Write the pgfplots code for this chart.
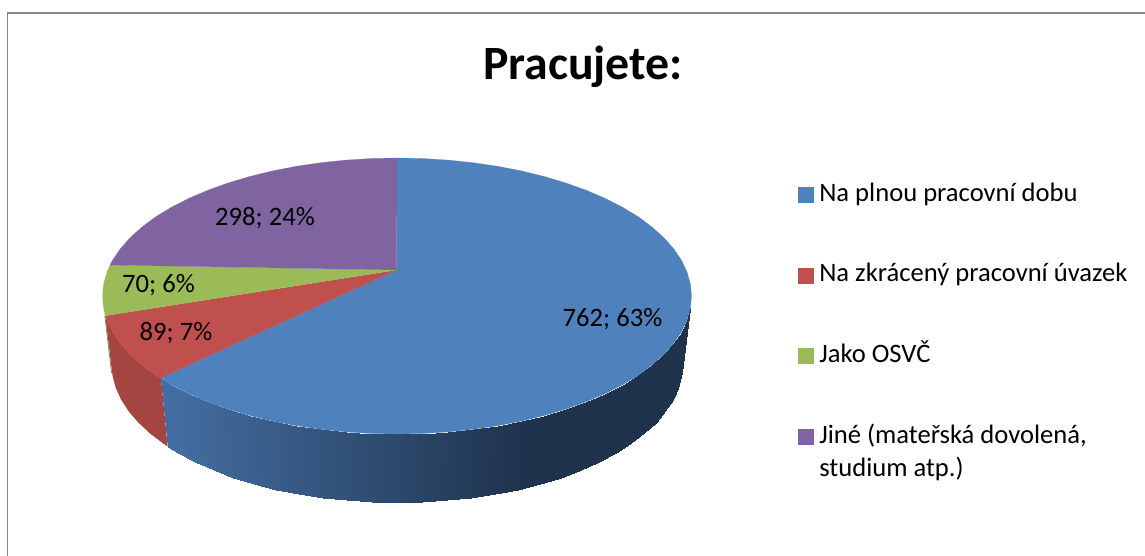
\documentclass[border=0pt]{standalone}
\usepackage{fontspec}
\setmainfont{Carlito}
\usepackage{pgfplots}
\pgfplotsset{compat=1.18}
\definecolor{pieblue}{HTML}{4F81BD}
\definecolor{piered}{HTML}{C0504D}
\definecolor{piegreen}{HTML}{9BBB59}
\definecolor{piepurple}{HTML}{8064A2}
\definecolor{sidered}{HTML}{A44541}
\definecolor{framegray}{HTML}{868686}
\newcommand{\lbl}{\fontsize{26.6}{32}\selectfont}
\begin{document}
\begin{tikzpicture}
  % axis units are the pixels of the picture, y running downwards
  \begin{axis}[
    name=ax,
    scale only axis,
    width=1145pt,
    height=556pt,
    xmin=0, xmax=1145,
    ymin=0, ymax=556,
    y dir=reverse,
    hide axis,
    clip=true,
    colormap={sideblue}{rgb255=(31,51,77) rgb255=(68,110,162)},
    point meta min=0,
    point meta max=1,
    legend style={
      at={(axis cs:798,184)},
      anchor=north west,
      draw=none,
      fill=none,
      inner sep=0pt,
      row sep=57.6pt,
      nodes={inner sep=0pt, font=\lbl, text height=17pt, text depth=6pt},
    },
    legend cell align=left,
    legend image code/.code={
      \fill[#1] (0pt,-6.5pt) rectangle (15pt,8.5pt);
      \path[draw=none, fill=none] (0pt,0pt) -- (21pt,0pt);
    },
  ]

    % chart frame, only top and left are in the crop
    \addplot[framegray, line width=1.8pt, forget plot]
      coordinates {(7.5,556) (7.5,12.7) (1145,12.7)};

    % thin edge of the green slice behind the red side
    \addplot[piegreen!80!black, line width=0.8pt, forget plot]
      coordinates {(104.8,315.7) (111.6,373)};

    % side of the red slice
    \addplot[fill=sidered, draw=none, forget plot] coordinates {
      (105.3,315.7) (107,320) (112.5,331.7) (120.3,343.2) (130.1,354.3)
      (142,365) (155.7,375.2) (161,377.7) (167.7,446.6) (163.1,443.4)
      (149.8,433.3) (138.3,422.5) (128.7,411.4) (121.2,399.8) (115.8,388)
      (112.6,376.1) (112.2,373)
    };

    % side of the blue slice, shaded from left to right
    \addplot[surf, shader=interp, mesh/rows=2, point meta=explicit, forget plot]
      table[x=x, y=y, meta=c] {
      x y c
      161 377.7 1.00
      171.4 384.7 .98
      188.8 393.6 .93
      207.7 401.7 .88
      228.1 409 .82
      249.7 415.5 .76
      272.5 421.1 .70
      296.3 425.7 .63
      320.8 429.3 .57
      345.9 431.9 .50
      371.3 433.5 .43
      397 434 .36
      422.7 433.5 .28
      448.1 431.9 .21
      473.2 429.3 .14
      497.7 425.7 .08
      521.5 421.1 .01
      544.3 415.5 0
      565.9 409 0
      586.3 401.7 0
      605.2 393.6 0
      622.6 384.7 0
      638.3 375.2 0
      652 365 0
      663.9 354.3 0
      673.7 343.2 0
      681.5 331.7 0
      687 320 0
      690.4 308 0
      167.7 446.6 1.00
      178.3 453 .98
      195.1 461.9 .93
      213.5 470.1 .88
      233.2 477.5 .82
      254.2 483.9 .76
      276.3 489.5 .70
      299.4 494.1 .63
      323.1 497.8 .57
      347.4 500.4 .50
      372.1 502 .43
      397 502.5 .36
      421.9 502 .28
      446.6 500.4 .21
      470.9 497.8 .14
      494.6 494.1 .08
      517.7 489.5 .01
      539.8 483.9 0
      560.8 477.5 0
      580.5 470.1 0
      598.9 461.9 0
      615.7 453 0
      630.9 443.4 0
      644.2 433.3 0
      655.7 422.5 0
      665.3 411.4 0
      672.8 399.8 0
      678.2 388 0
      682.2 373 0
    };

    % top faces: 762, 89, 70, 298
    \addplot[fill=pieblue, draw=pieblue, line width=0.2pt] coordinates {
      (396.5,270) (397,158) (422.7,158.5) (448.1,160.1) (473.2,162.7)
      (497.7,166.3) (521.5,170.9) (544.3,176.5) (565.9,183) (586.3,190.3)
      (605.2,198.4) (622.6,207.3) (638.3,216.8) (652,227) (663.9,237.7)
      (673.7,248.8) (681.5,260.3) (687,272) (690.4,284) (691.5,296)
      (690.4,308) (687,320) (681.5,331.7) (673.7,343.2) (663.9,354.3)
      (652,365) (638.3,375.2) (622.6,384.7) (605.2,393.6) (586.3,401.7)
      (565.9,409) (544.3,415.5) (521.5,421.1) (497.7,425.7) (473.2,429.3)
      (448.1,431.9) (422.7,433.5) (397,434) (371.3,433.5) (345.9,431.9)
      (320.8,429.3) (296.3,425.7) (272.5,421.1) (249.7,415.5) (228.1,409)
      (207.7,401.7) (188.8,393.6) (171.4,384.7) (161,377.7)
    };
    \addlegendentry{Na plnou pracovní dobu}

    \addplot[fill=piered, draw=piered, line width=0.2pt] coordinates {
      (396.5,270) (161,377.7) (155.7,375.2) (142,365) (130.1,354.3)
      (120.3,343.2) (112.5,331.7) (107,320) (105.3,315.7)
    };
    \addlegendentry{Na zkrácený pracovní úvazek}

    \addplot[fill=piegreen, draw=piegreen, line width=0.2pt] coordinates {
      (396.5,270) (105.3,315.7) (103.6,308) (102.5,296) (103.6,284)
      (107,272) (110,265)
    };
    \addlegendentry{Jako OSVČ}

    \addplot[fill=piepurple, draw=piepurple, line width=0.2pt] coordinates {
      (396.5,270) (110,265) (112.5,260.3) (120.3,248.8) (130.1,237.7)
      (142,227) (155.7,216.8) (171.4,207.3) (188.8,198.4) (207.7,190.3)
      (228.1,183) (249.7,176.5) (272.5,170.9) (296.3,166.3) (320.8,162.7)
      (345.9,160.1) (371.3,158.5) (397,158)
    };
    \addlegendentry{\smash{\parbox[t]{300pt}{\lbl\lineskiplimit=-10pt\baselineskip=33pt Jiné (mateřská dovolená,\\ studium atp.)}}}

    % data labels and title
    \node[anchor=base, font=\lbl] at (axis cs:612.5,326) {762; 63\%};
    \node[anchor=base, font=\lbl] at (axis cs:265,225) {298; 24\%};
    \node[anchor=base, font=\lbl] at (axis cs:158.5,292) {70; 6\%};
    \node[anchor=base, font=\lbl] at (axis cs:176,340) {89; 7\%};
    \node[anchor=base, font=\fontsize{47.8}{56}\selectfont\bfseries] at (axis cs:583,80) {Pracujete:};

    \path[use as bounding box] (rel axis cs:0,0) rectangle (rel axis cs:1,1);
  \end{axis}
\end{tikzpicture}
\end{document}
